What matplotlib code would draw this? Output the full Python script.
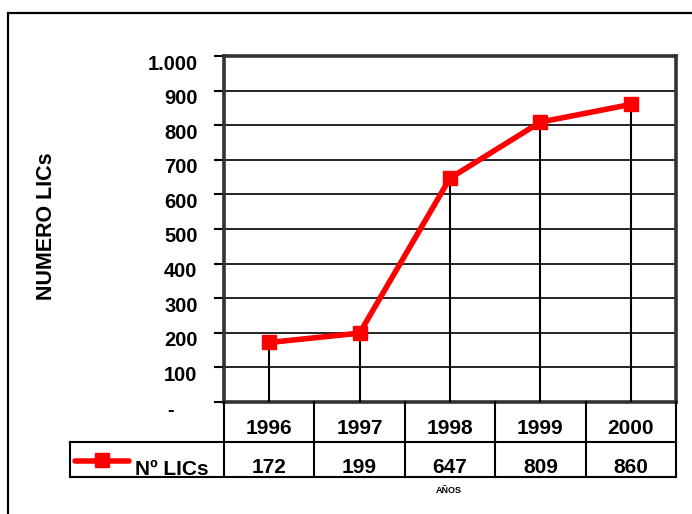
import numpy as np
import matplotlib
matplotlib.use("Agg")
import matplotlib.pyplot as plt
from matplotlib.lines import Line2D
from matplotlib.patches import Rectangle
from matplotlib.transforms import blended_transform_factory, ScaledTranslation

# datos del grafico
anios = ["1996", "1997", "1998", "1999", "2000"]
num_lics = [172, 199, 647, 809, 860]
y_ticks = [0, 100, 200, 300, 400, 500, 600, 700, 800, 900, 1000]
y_tick_labels = ["-", "100", "200", "300", "400", "500", "600", "700", "800", "900", "1.000"]
serie = "Nº LICs"
titulo_y = "NUMERO LICs"
titulo_x = "AÑOS"

plt.rcParams['font.family'] = ['Liberation Sans', 'DejaVu Sans']
plt.rcParams['font.weight'] = 'bold'

W, H = 692, 514
fig = plt.figure(figsize=(W / 100, H / 100), dpi=100)


# pixeles -> fraccion de figura
def fx(px):
    return px / W


def fy(py):
    return 1 - py / H


# marco exterior
fig.add_artist(Rectangle((fx(8), fy(530)), fx(720) - fx(8), fy(13) - fy(530),
                         transform=fig.transFigure, fill=False, lw=1.6, ec='black'))

ax = fig.add_axes([fx(224), fy(402), fx(676) - fx(224), fy(56) - fy(402)])
x = np.arange(len(anios))

ax.vlines(x, 0, num_lics, color='black', lw=1.5, zorder=3)
ax.plot(x, num_lics, color='red', lw=4, marker='s', ms=10, zorder=5, clip_on=False)

ax.set_xlim(-0.5, len(anios) - 0.5)
ax.set_ylim(0, 1000)
ax.set_yticks(y_ticks)
ax.set_yticklabels(y_tick_labels, fontsize=14.5, fontweight='bold')
ax.set_xticks([])
ax.yaxis.grid(True, color='black', lw=1.2)
ax.set_axisbelow(True)
ax.tick_params(axis='y', length=7, width=1.5, pad=12)
for s in ax.spines.values():
    s.set_linewidth(2.6)
    s.set_color('#333333')

# etiquetas un poco mas abajo, como en Excel
off = ScaledTranslation(0, -6 / 100, fig.dpi_scale_trans)
for i, lab in enumerate(ax.get_yticklabels()):
    lab.set_transform(lab.get_transform() + off)
    if i == 0:
        lab.set_transform(lab.get_transform() + ScaledTranslation(-24 / 100, 0, fig.dpi_scale_trans))

fig.text(fx(47), fy(226), titulo_y, rotation=90, ha='center', va='center',
         fontsize=15.5, fontweight='bold')

# tabla de datos
tr = blended_transform_factory(ax.transData, fig.transFigure)
for k in range(len(anios) + 1):
    fig.add_artist(Line2D([k - 0.5, k - 0.5], [fy(402), fy(477)], transform=tr,
                          color='black', lw=1.5))
fig.add_artist(Line2D([fx(70), fx(676)], [fy(442), fy(442)], transform=fig.transFigure,
                      color='black', lw=1.5))
fig.add_artist(Line2D([fx(70), fx(676)], [fy(477), fy(477)], transform=fig.transFigure,
                      color='black', lw=1.5))
fig.add_artist(Line2D([fx(70), fx(70)], [fy(442), fy(477)], transform=fig.transFigure,
                      color='black', lw=1.5))

for i, (a, v) in enumerate(zip(anios, num_lics)):
    fig.text(i, fy(434), a, transform=tr, ha='center', va='baseline', fontsize=15)
    fig.text(i, fy(473), str(v), transform=tr, ha='center', va='baseline', fontsize=15)

# leyenda dentro de la tabla
fig.add_artist(Line2D([fx(75), fx(129)], [fy(461), fy(461)], transform=fig.transFigure,
                      color='red', lw=4, solid_capstyle='round'))
fig.add_artist(Line2D([fx(102)], [fy(460)], transform=fig.transFigure,
                      color='red', marker='s', ms=10, lw=0))
fig.text(fx(209), fy(475), serie, ha='right', va='baseline', fontsize=15)

fig.text(fx(449), fy(493), titulo_x, ha='center', va='baseline', fontsize=6.5)

fig.savefig("out.png", dpi=100)
